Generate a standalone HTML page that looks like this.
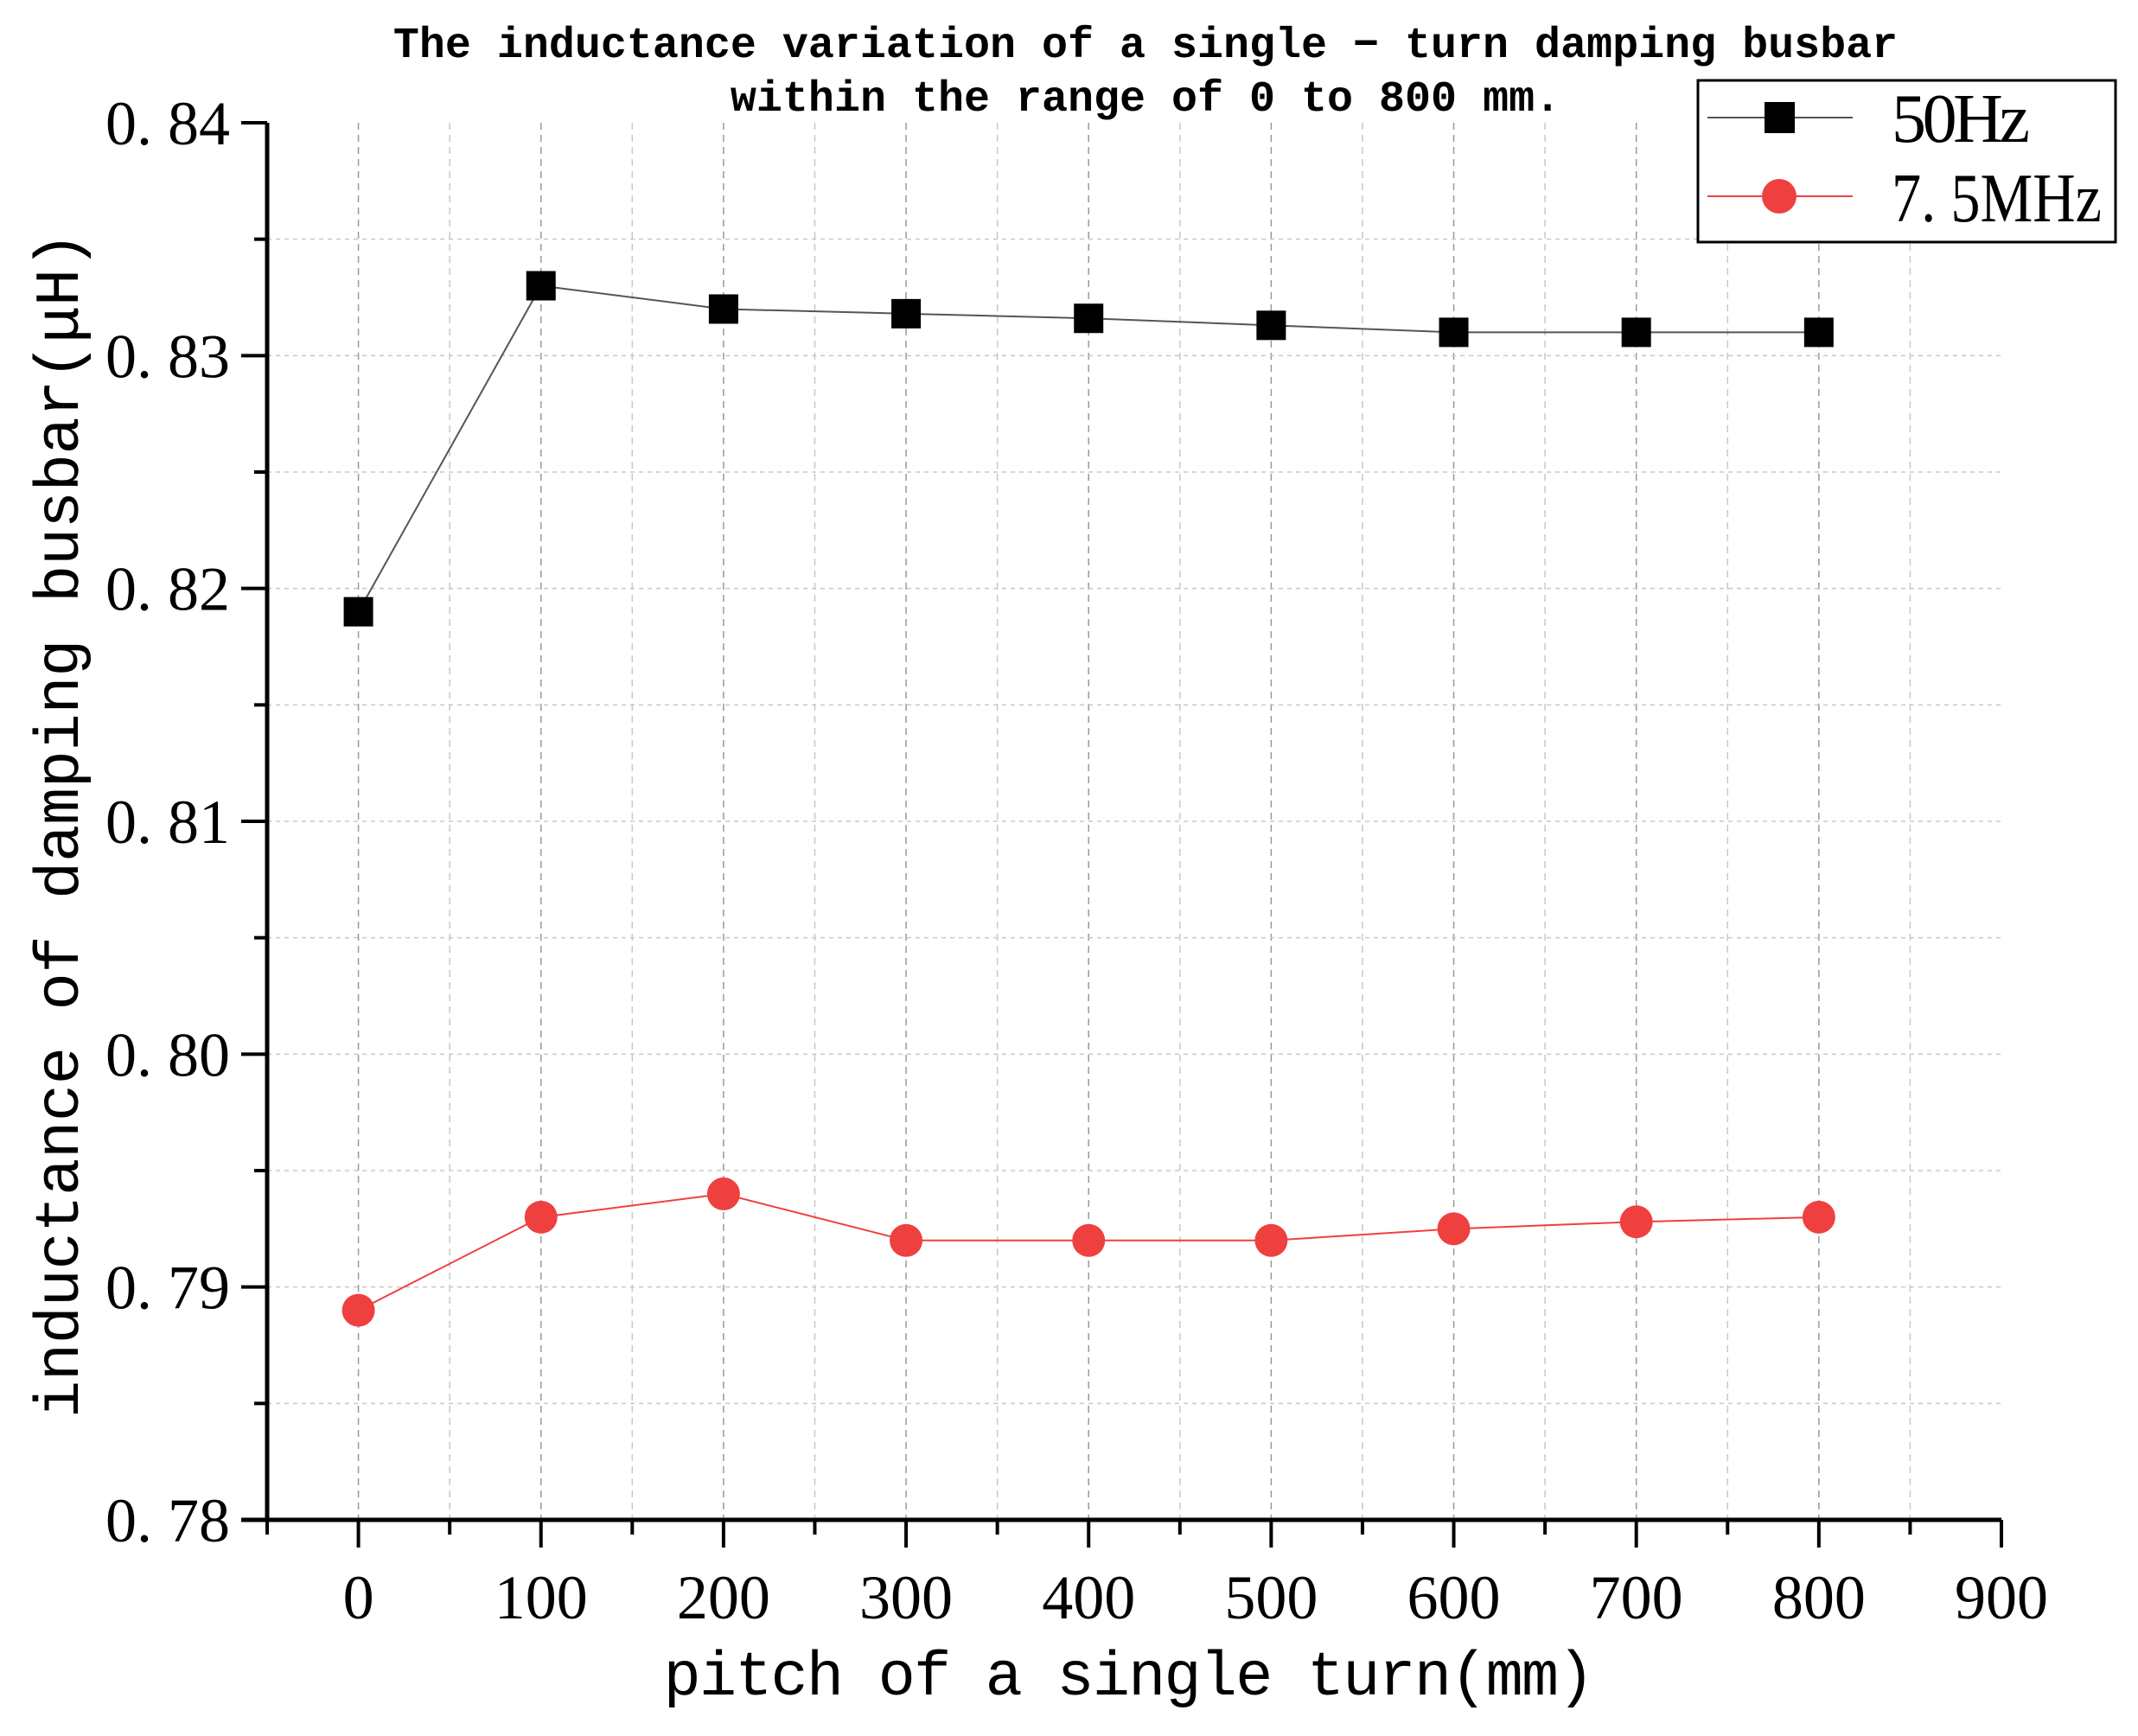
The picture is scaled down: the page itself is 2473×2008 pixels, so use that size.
<!DOCTYPE html>
<html><head><meta charset="utf-8"><style>
html,body{margin:0;padding:0;background:#fff;}
svg{display:block;}
</style></head><body>
<svg id="chart" width="2473" height="2008" viewBox="0 0 2473 2008" xmlns="http://www.w3.org/2000/svg">
<rect x="0" y="0" width="2473" height="2008" fill="#fff"/>
<g font-family="Liberation Mono, monospace" font-weight="bold" font-size="50" text-anchor="middle" fill="#000">
<text x="1325" y="66">The inductance variation of a single − turn damping busbar</text>
<text x="1325" y="128">within the range of 0 to 800 mm.</text>
</g>
<g id="grid"></g>
<g id="axes"></g>
<g id="series"></g>
<text x="1306" y="1960" font-family="Liberation Mono, monospace" font-size="72" text-anchor="middle" textLength="1077">pitch of a single turn(mm)</text>
<text transform="translate(90,954) rotate(-90)" font-family="Liberation Mono, monospace" font-size="72" text-anchor="middle" textLength="1372">inductance of damping busbar(μH)</text>
<g>
<rect x="1964" y="93" width="483" height="187" fill="#fff" stroke="#000" stroke-width="3"/>
<g>
<line x1="1975" y1="136" x2="2143" y2="136" stroke="#555" stroke-width="2"/>
<rect x="2041" y="118" width="35" height="36" fill="#000"/>
<text x="2188" y="164" font-family="Liberation Serif, serif" font-size="80" textLength="160">50Hz</text>
</g>
<g>
<line x1="1975" y1="227" x2="2143" y2="227" stroke="#EF4040" stroke-width="2"/>
<circle cx="2058" cy="227" r="20" fill="#EF4040"/>
<text x="2188" y="256" font-family="Liberation Serif, serif" font-size="80" textLength="243" lengthAdjust="spacingAndGlyphs">7. 5MHz</text>
</g>
</g>
</svg>
<script>
const categories = [0, 100, 200, 300, 400, 500, 600, 700, 800];
const series50Hz = [0.819, 0.833, 0.832, 0.8318, 0.8316, 0.8313, 0.831, 0.831, 0.831];
const series75MHz = [0.789, 0.793, 0.794, 0.792, 0.792, 0.792, 0.7925, 0.7928, 0.793];
const xTickValues = [0, 100, 200, 300, 400, 500, 600, 700, 800, 900];
const yTickValues = [0.78, 0.79, 0.80, 0.81, 0.82, 0.83, 0.84];
const yTickLabels = ["0. 78", "0. 79", "0. 80", "0. 81", "0. 82", "0. 83", "0. 84"];

const NS = "http://www.w3.org/2000/svg";
const L = 309, R = 2315, T = 142, B = 1758;
const xMin = -50, xMax = 900, yMin = 0.78, yMax = 0.84;
function xs(v){ return L + (v - xMin) / (xMax - xMin) * (R - L); }
function ys(v){ return B - (v - yMin) / (yMax - yMin) * (B - T); }
function mk(tag, attrs, parent){
  const e = document.createElementNS(NS, tag);
  for (const k in attrs) e.setAttribute(k, attrs[k]);
  parent.appendChild(e);
  return e;
}
const grid = document.getElementById('grid');
const axes = document.getElementById('axes');
const ser = document.getElementById('series');

for (let v = 0; v < xMax; v += 50) {
  const major = v % 100 === 0;
  const g = mk('line', {x1: xs(v), x2: xs(v), y1: T, y2: B, stroke: major ? '#999' : '#c8c8c8', 'stroke-width': 1.5, 'stroke-dasharray': '8 6'}, grid);
  
  
}
for (let i = 1; i < 12; i++) {
  const v = yMin + i * 0.005;
  const g = mk('line', {x1: L, x2: R, y1: ys(v), y2: ys(v), stroke: '#c8c8c8', 'stroke-width': 1.5, 'stroke-dasharray': '5 5'}, grid);
  
  
}
const ya = mk('line', {x1: L, x2: L, y1: T, y2: B + 2, stroke: '#000', 'stroke-width': 5}, axes);


const xa = mk('line', {x1: L - 30, x2: R, y1: B, y2: B, stroke: '#000', 'stroke-width': 5}, axes);


for (let v = -50; v <= xMax; v += 50) {
  const major = v % 100 === 0;
  const t = mk('line', {x1: xs(v), x2: xs(v), y1: B, y2: B + (major ? 32 : 17), stroke: '#000', 'stroke-width': 4}, axes);
  
  
}
xTickValues.forEach(v => {
  const t = mk('text', {x: xs(v), y: 1872, 'font-family': 'Liberation Serif, serif', 'font-size': 72, 'text-anchor': 'middle'}, axes);
  t.textContent = String(v);
  
  
});
for (let i = 0; i <= 12; i++) {
  const v = yMin + i * 0.005;
  const major = i % 2 === 0;
  const t = mk('line', {x1: L - (major ? 30 : 15), x2: L, y1: ys(v), y2: ys(v), stroke: '#000', 'stroke-width': 4}, axes);
  
  
}
yTickValues.forEach((v, i) => {
  const t = mk('text', {x: 266, y: ys(v) + 25, 'font-family': 'Liberation Serif, serif', 'font-size': 72, 'text-anchor': 'end'}, axes);
  t.textContent = yTickLabels[i];
  
  
});
const p1 = mk('polyline', {points: categories.map((c, i) => xs(c) + ',' + ys(series50Hz[i])).join(' '), fill: 'none', stroke: '#555', 'stroke-width': 2}, ser);


categories.forEach((c, i) => {
  const m = mk('rect', {x: xs(c) - 17, y: ys(series50Hz[i]) - 17, width: 34, height: 34, fill: '#000'}, ser);
  
  
});
const p2 = mk('polyline', {points: categories.map((c, i) => xs(c) + ',' + ys(series75MHz[i])).join(' '), fill: 'none', stroke: '#EF4040', 'stroke-width': 2}, ser);


categories.forEach((c, i) => {
  const m = mk('circle', {cx: xs(c), cy: ys(series75MHz[i]), r: 19, fill: '#EF4040'}, ser);
  
  
});
</script>
</body></html>
